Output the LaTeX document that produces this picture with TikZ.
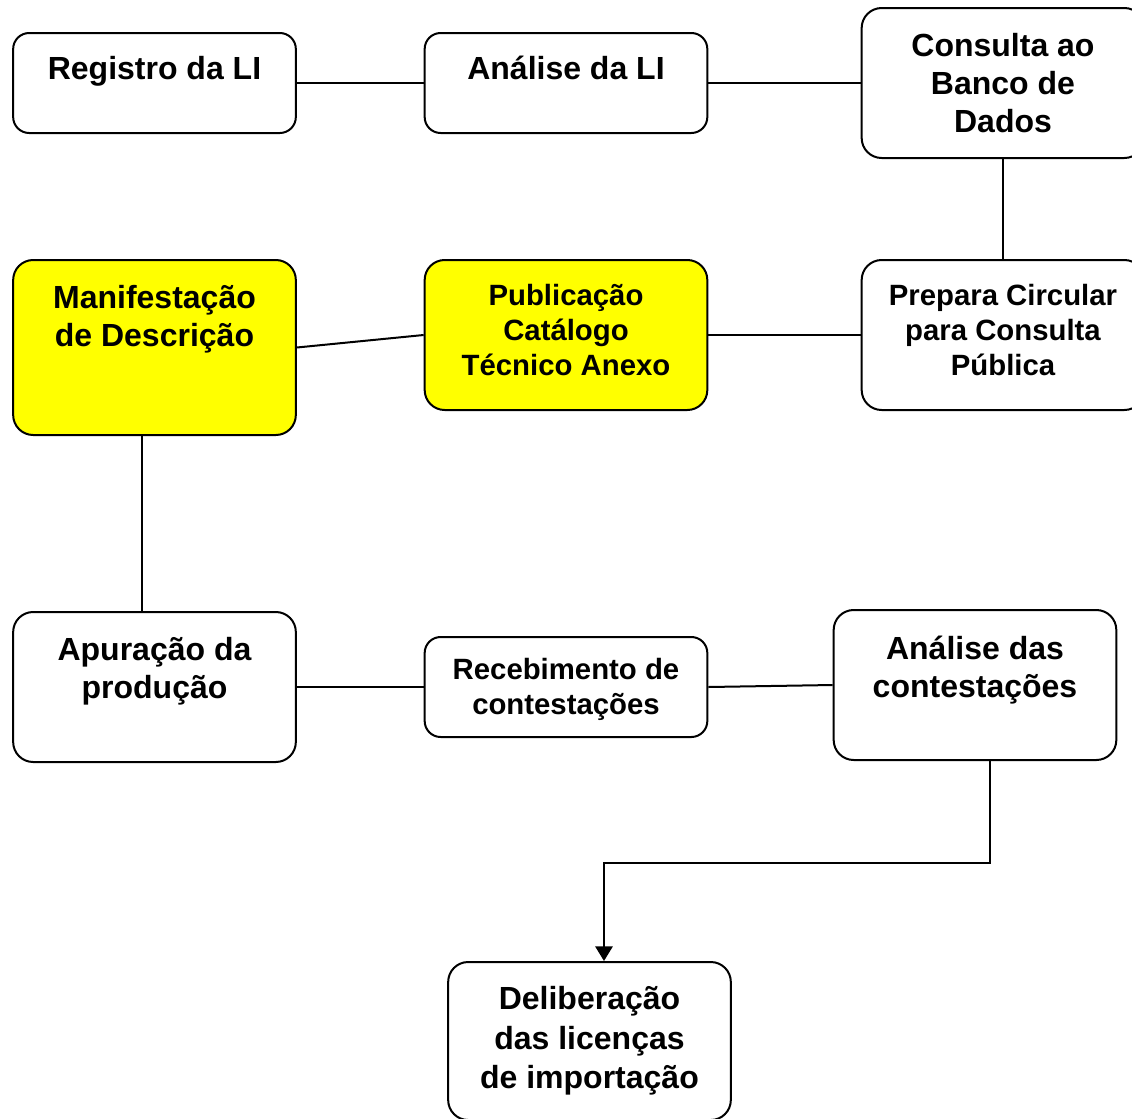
\documentclass[tikz,border=0pt]{standalone}
\usepackage{fontspec}
\setmainfont{Liberation Sans}
\usetikzlibrary{positioning,calc,arrows.meta}

\definecolor{noteyellow}{RGB}{255,255,0}

\tikzset{
  box/.style={draw, line width=1.5pt, rounded corners=15pt, minimum width=212pt, inner sep=0pt},
  lowbox/.style={box, rounded corners=12pt, minimum height=75pt},
  tallbox/.style={box, minimum height=112.5pt},
  hibox/.style={fill=noteyellow},
  big/.style={font=\fontsize{24}{28.5}\selectfont\bfseries, align=center},
  small/.style={font=\fontsize{22}{26.25}\selectfont\bfseries, align=center},
  link/.style={line width=1.5pt},
}

\begin{document}
\begin{tikzpicture}[x=0.75pt,y=-0.75pt]
    \useasboundingbox (0,0) rectangle (1132,1118);

    % Top row
    \node[lowbox] (reg) at (154.5,83) {};
    \node[lowbox] (ana) at (566,83) {};
    \node[tallbox] (cons) at (1003,83) {};
    \node[big] (reg-t) at (154.5,71) {Registro da LI};
    \node[big] (ana-t) at (566,68) {Análise da LI};
    \node[big] (cons-t) at (1003,83) {Consulta ao\\Banco de\\Dados};

    % Middle row
    \node[box, hibox, minimum height=131.25pt] (man) at (154.5,347.5) {};
    \node[tallbox, hibox] (pub) at (566,335) {};
    \node[tallbox] (prep) at (1003,335) {};
    \node[big] (man-t) at (154.5,319) {Manifestação\\de Descrição};
    \node[small] (pub-t) at (566,330) {Publicação\\Catálogo\\Técnico Anexo};
    \node[small] (prep-t) at (1003,330) {Prepara Circular\\para Consulta\\Pública};

    % Lower row
    \node[tallbox] (apu) at (154.5,687) {};
    \node[lowbox] (rec) at (566,687) {};
    \node[tallbox] (anc) at (975,685) {};
    \node[big] (apu-t) at (154.5,671) {Apuração da\\produção};
    \node[small] (rec-t) at (566,689) {Recebimento de\\contestações};
    \node[big] (anc-t) at (975,670) {Análise das\\contestações};

    % Result
    \node[box, minimum height=118.5pt] (del) at (589.5,1041) {};
    \node[big, font=\fontsize{24}{29.5}\selectfont\bfseries] (del-t) at (589.5,1041) {Deliberação\\das licenças\\de importação};

    % Connectors
    \draw[link] (reg.east) -- (ana.west);
    \draw[link] (ana.east) -- (cons.west);
    \draw[link] (cons.south) -- (prep.north);
    \draw[link] (man.east) -- (pub.west);
    \draw[link] (pub.east) -- (prep.west);
    \draw[link] ($(man.south)+(-12.5,0)$) -- ($(apu.north)+(-12.5,0)$);
    \draw[link] (apu.east) -- (rec.west);
    \draw[link] (rec.east) -- (anc.west);
    \draw[link, -{Triangle[width=13pt,length=11pt]}] ($(anc.south)+(15,0)$) -- ++(0,102) -| ($(del.north)+(14.5,0)$);
\end{tikzpicture}
\end{document}
